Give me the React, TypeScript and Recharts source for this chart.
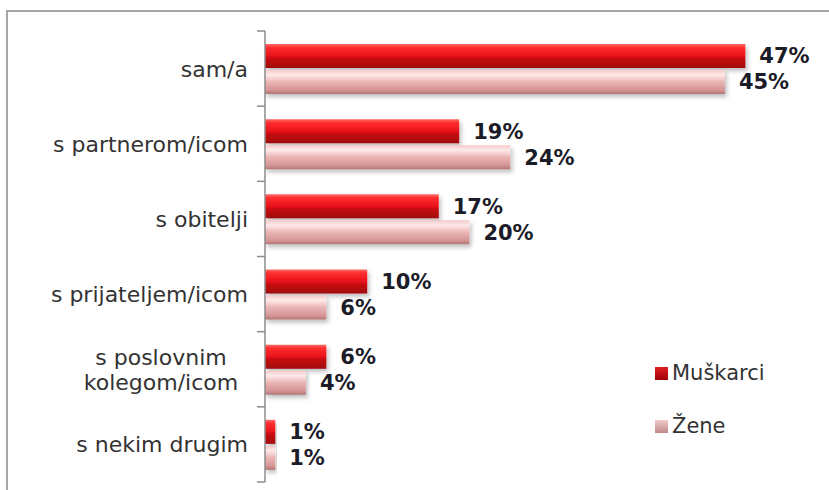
import React from 'react';
import { BarChart, Bar, XAxis, YAxis, LabelList } from 'recharts';

const categories = ['sam/a', 's partnerom/icom', 's obitelji', 's prijateljem/icom', 's poslovnim kolegom/icom', 's nekim drugim'];
const muskarci = [47, 19, 17, 10, 6, 1];
const zene = [45, 24, 20, 6, 4, 1];
const seriesNames = ['Muškarci', 'Žene'];

const data = categories.map((c, i) => ({ name: c, m: muskarci[i], z: zene[i] }));

const FONT = '"DejaVu Sans", Verdana, sans-serif';
const TOP = 31;
const BOTTOM = 8;
const HEIGHT = 490;
const band = (HEIGHT - TOP - BOTTOM) / categories.length;

// category label plus excel-style tick marks between categories
const CategoryTick = ({ x, y, payload, index }: any) => {
  const words = String(payload.value).split(' ');
  const lines = payload.value.length > 20 ? [words.slice(0, 2).join(' '), words.slice(2).join(' ')] : [payload.value];
  const ax = x + 8;
  return (
    <g>
      <line x1={ax - 8} x2={ax} y1={y - band / 2} y2={y - band / 2} stroke="#8c8c8c" strokeWidth={1.5} />
      {index === categories.length - 1 && (
        <line x1={ax - 8} x2={ax} y1={y + band / 2} y2={y + band / 2} stroke="#8c8c8c" strokeWidth={1.5} />
      )}
      {lines.length === 1 ? (
        <text x={ax - 17} y={y} dy={8} textAnchor="end" fontSize={22} fontFamily={FONT} fill="#333">
          {lines[0]}
        </text>
      ) : (
        lines.map((l, i) => (
          <text key={i} x={161} y={y + (i - 0.5) * 25} dy={8} textAnchor="middle" fontSize={22} fontFamily={FONT} fill="#333">
            {l}
          </text>
        ))
      )}
    </g>
  );
};

const LegendBox = () => (
  <div style={{ position: 'absolute', left: 655, top: 360, fontFamily: FONT, fontSize: 21, color: '#333' }}>
    {seriesNames.map((n, i) => (
      <div key={n} style={{ display: 'flex', alignItems: 'center', height: 26, marginBottom: i === 0 ? 27 : 0 }}>
        <span
          style={{
            display: 'inline-block',
            width: 13,
            height: 13,
            marginRight: 4,
            background: i === 0 ? 'linear-gradient(#e02020, #a00008)' : 'linear-gradient(#f0caca, #c08888)',
          }}
        />
        {n}
      </div>
    ))}
  </div>
);

const labelStyle = { fontFamily: FONT, fontSize: 21, fontWeight: 'bold', fill: '#1c1c28' } as const;

export default function App() {
  return (
    <div style={{ position: 'absolute', left: 0, top: 0, width: 829, height: 490, background: '#fff', overflow: 'hidden' }}>
      <div
        style={{
          position: 'absolute',
          left: 6,
          top: 10,
          width: 1000,
          height: 1000,
          borderLeft: '2px solid #a6a6a6',
          borderTop: '2px solid #a6a6a6',
        }}
      />
      <div style={{ position: 'absolute', left: 0, top: 0 }}>
        <BarChart
          width={829}
          height={HEIGHT}
          data={data}
          layout="vertical"
          margin={{ top: TOP, right: 53, bottom: BOTTOM, left: 0 }}
          barSize={24}
          barGap={2}
        >
          <defs>
            <linearGradient id="gradM" x1="0" y1="0" x2="0" y2="1">
              <stop offset="0%" stopColor="#ff6a6a" />
              <stop offset="15%" stopColor="#ff2e2e" />
              <stop offset="50%" stopColor="#e8121a" />
              <stop offset="60%" stopColor="#c80c12" />
              <stop offset="100%" stopColor="#a0060a" />
            </linearGradient>
            <linearGradient id="gradZ" x1="0" y1="0" x2="0" y2="1">
              <stop offset="0%" stopColor="#f4c8c8" />
              <stop offset="20%" stopColor="#ffeaea" />
              <stop offset="50%" stopColor="#eab4b4" />
              <stop offset="85%" stopColor="#d49494" />
              <stop offset="100%" stopColor="#b07474" />
            </linearGradient>
            <filter id="shadow" x="-5%" y="-20%" width="115%" height="160%">
              <feDropShadow dx={2} dy={3} stdDeviation={2} floodColor="#000" floodOpacity={0.25} />
            </filter>
          </defs>
          <XAxis type="number" domain={[0, 50]} hide />
          <YAxis
            type="category"
            dataKey="name"
            width={265}
            axisLine={{ stroke: '#8c8c8c', strokeWidth: 1.5 }}
            tickLine={false}
            tick={<CategoryTick />}
            interval={0}
          />
          <Bar dataKey="m" name={seriesNames[0]} fill="url(#gradM)" filter="url(#shadow)" isAnimationActive={false}>
            <LabelList dataKey="m" position="right" offset={14} formatter={(v: any) => `${v}%`} style={labelStyle} />
          </Bar>
          <Bar dataKey="z" name={seriesNames[1]} fill="url(#gradZ)" filter="url(#shadow)" isAnimationActive={false}>
            <LabelList dataKey="z" position="right" offset={14} formatter={(v: any) => `${v}%`} style={labelStyle} />
          </Bar>
        </BarChart>
      </div>
      <LegendBox />
    </div>
  );
}
